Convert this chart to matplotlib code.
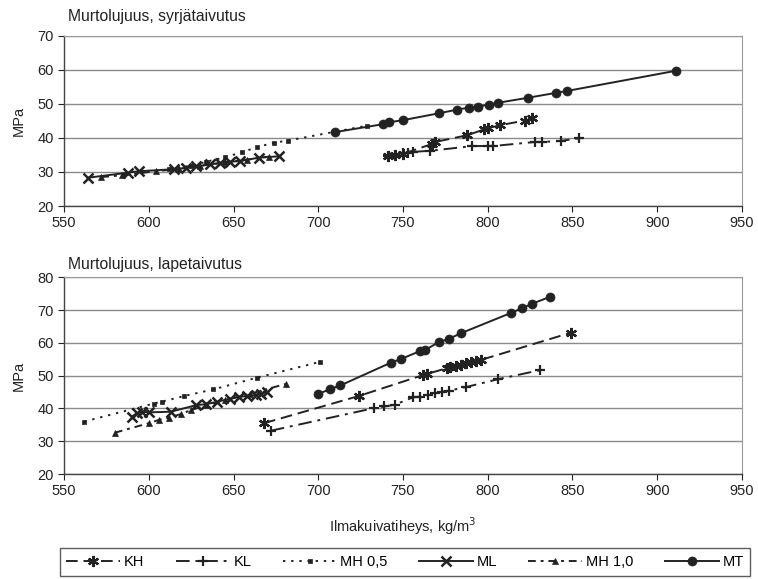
import matplotlib
matplotlib.use("Agg")
import matplotlib.pyplot as plt

plt.rcParams['font.family'] = ['Liberation Sans', 'DejaVu Sans']

# ---------------- data: top panel (syrjätaivutus) ----------------
top_KH_x = [741, 745, 750, 767, 769, 788, 798, 800, 807, 822, 826]
top_KH_y = [34.7, 35.0, 35.3, 38.2, 38.8, 40.8, 42.5, 42.8, 43.7, 45.1, 45.7]
top_KL_x = [741, 745, 750, 753, 756, 766, 791, 800, 803, 828, 832, 843, 854]
top_KL_y = [34.7, 35.0, 35.6, 35.6, 35.9, 36.2, 37.6, 37.6, 37.6, 38.8, 38.8, 39.1, 39.9]
top_MH05_x = [612, 625, 634, 645, 655, 664, 674, 682, 729]
top_MH05_y = [31.0, 31.8, 33.0, 34.3, 35.8, 37.3, 38.6, 39.2, 43.6]
top_ML_x = [564, 588, 594, 615, 622, 628, 636, 642, 648, 654, 665, 677]
top_ML_y = [28.3, 29.8, 30.2, 30.8, 31.2, 31.6, 32.2, 32.6, 33.0, 33.2, 34.2, 34.6]
top_MH10_x = [572, 584, 604, 618, 630, 645, 658, 671]
top_MH10_y = [28.5, 29.0, 30.2, 30.9, 31.8, 32.8, 33.6, 34.5]
top_MT_x = [710, 738, 742, 750, 771, 782, 789, 794, 801, 806, 824, 840, 847, 911]
top_MT_y = [41.7, 44.0, 44.6, 45.2, 47.2, 48.3, 48.9, 49.2, 49.8, 50.3, 51.8, 53.2, 53.8, 59.7]

# ---------------- data: bottom panel (lapetaivutus) ----------------
bot_KH_x = [668, 724, 762, 764, 776, 778, 781, 784, 787, 790, 793, 796, 849]
bot_KH_y = [35.5, 43.8, 50.2, 50.5, 52.3, 52.6, 53.0, 53.3, 53.8, 54.1, 54.5, 54.8, 63.1]
bot_KL_x = [672, 733, 739, 745, 756, 760, 765, 769, 773, 777, 787, 806, 831]
bot_KL_y = [33.2, 40.1, 40.6, 41.1, 43.4, 43.6, 44.1, 44.6, 45.1, 45.4, 46.5, 48.9, 51.7]
bot_MH05_x = [562, 603, 608, 621, 638, 664, 701]
bot_MH05_y = [36.0, 41.5, 42.1, 43.8, 45.8, 49.4, 54.2]
bot_ML_x = [590, 593, 596, 600, 613, 628, 634, 640, 648, 653, 658, 663, 666, 670]
bot_ML_y = [37.5, 38.5, 39.0, 38.8, 39.0, 41.0, 41.3, 42.0, 43.0, 43.5, 43.8, 44.1, 44.5, 45.0]
bot_MH10_x = [580, 600, 606, 612, 619, 625, 634, 645, 660, 681]
bot_MH10_y = [32.6, 35.5, 36.5, 37.2, 38.3, 39.5, 41.0, 42.5, 44.5, 47.5]
bot_MT_x = [700, 707, 713, 743, 749, 760, 763, 771, 777, 784, 814, 820, 826, 837]
bot_MT_y = [44.4, 45.9, 47.0, 54.0, 55.1, 57.5, 57.8, 60.2, 61.2, 62.9, 69.2, 70.5, 71.9, 74.1]

x_ticks = [550, 600, 650, 700, 750, 800, 850, 900, 950]
top_y_ticks = [20, 30, 40, 50, 60, 70]
bot_y_ticks = [20, 30, 40, 50, 60, 70, 80]
labels = ["KH", "KL", "MH 0,5", "ML", "MH 1,0", "MT"]
titles = ["Murtolujuus, syrjätaivutus", "Murtolujuus, lapetaivutus"]
ylabel = "MPa"
xlabel = "Ilmakuivatiheys, kg/m$^3$"

ink = "#222222"
styles = [
    dict(ls=(0, (6, 3)), marker=(6, 2, 0), ms=8, mew=1.6),
    dict(ls=(0, (7, 3, 1.5, 3)), marker="+", ms=7, mew=1.6),
    dict(ls=(0, (1.2, 3)), marker="s", ms=3.5, mew=0.5),
    dict(ls="-", marker="x", ms=7, mew=1.8),
    dict(ls=(0, (4, 2.5, 1.5, 2.5)), marker="^", ms=5, mew=0.5),
    dict(ls="-", marker="o", ms=6.5, mew=0.5),
]

W, H = 758, 579
fig = plt.figure(figsize=(W / 100, H / 100), dpi=100)
ax1 = fig.add_axes([64 / W, 1 - 206 / H, 678 / W, 170.3 / H])
ax2 = fig.add_axes([64 / W, 1 - 474 / H, 678 / W, 196.7 / H])

top_series = [(top_KH_x, top_KH_y), (top_KL_x, top_KL_y), (top_MH05_x, top_MH05_y),
              (top_ML_x, top_ML_y), (top_MH10_x, top_MH10_y), (top_MT_x, top_MT_y)]
bot_series = [(bot_KH_x, bot_KH_y), (bot_KL_x, bot_KL_y), (bot_MH05_x, bot_MH05_y),
              (bot_ML_x, bot_ML_y), (bot_MH10_x, bot_MH10_y), (bot_MT_x, bot_MT_y)]

handles = []
for ax, series, yt, title, ty in [(ax1, top_series, top_y_ticks, titles[0], 17),
                                  (ax2, bot_series, bot_y_ticks, titles[1], 264)]:
    for (xs, ys), st, lab in zip(series, styles, labels):
        h, = ax.plot(xs, ys, color=ink, lw=1.4, mfc=ink, mec=ink, label=lab, **st)
        if ax is ax1:
            handles.append(h)
    ax.set_xlim(550, 950)
    ax.set_ylim(yt[0], yt[-1])
    ax.set_xticks(x_ticks)
    ax.set_yticks(yt)
    ax.yaxis.grid(True, color="#8a8a8a", lw=1.0)
    ax.set_axisbelow(True)
    for s in ["top", "right"]:
        ax.spines[s].set_color("#9a9a9a")
        ax.spines[s].set_linestyle((0, (1, 1)))
    for s in ["left", "bottom"]:
        ax.spines[s].set_color("#444444")
        ax.spines[s].set_linewidth(1.0)
    ax.tick_params(axis="both", labelsize=10.5, colors="#222222", direction="out", length=4)
    ax.set_ylabel(ylabel, fontsize=10.5, color="#222222", labelpad=8)
    fig.text(68 / W, 1 - ty / H, title, fontsize=11.3, color="#222222",
             ha="left", va="center")

ax2.set_xlabel(xlabel, fontsize=10.5, color="#222222", labelpad=12)

leg = fig.legend(handles=handles, labels=labels, loc="center", ncol=6,
                 bbox_to_anchor=(405 / W, 1 - 562 / H), bbox_transform=fig.transFigure,
                 frameon=True, fancybox=False, edgecolor="#333333", fontsize=10.5,
                 handlelength=3.7, columnspacing=2.15, handletextpad=0.25,
                 borderpad=0.45, borderaxespad=0.0)
leg.get_frame().set_linewidth(1.0)

fig.savefig("out.png", dpi=100, facecolor="white")
